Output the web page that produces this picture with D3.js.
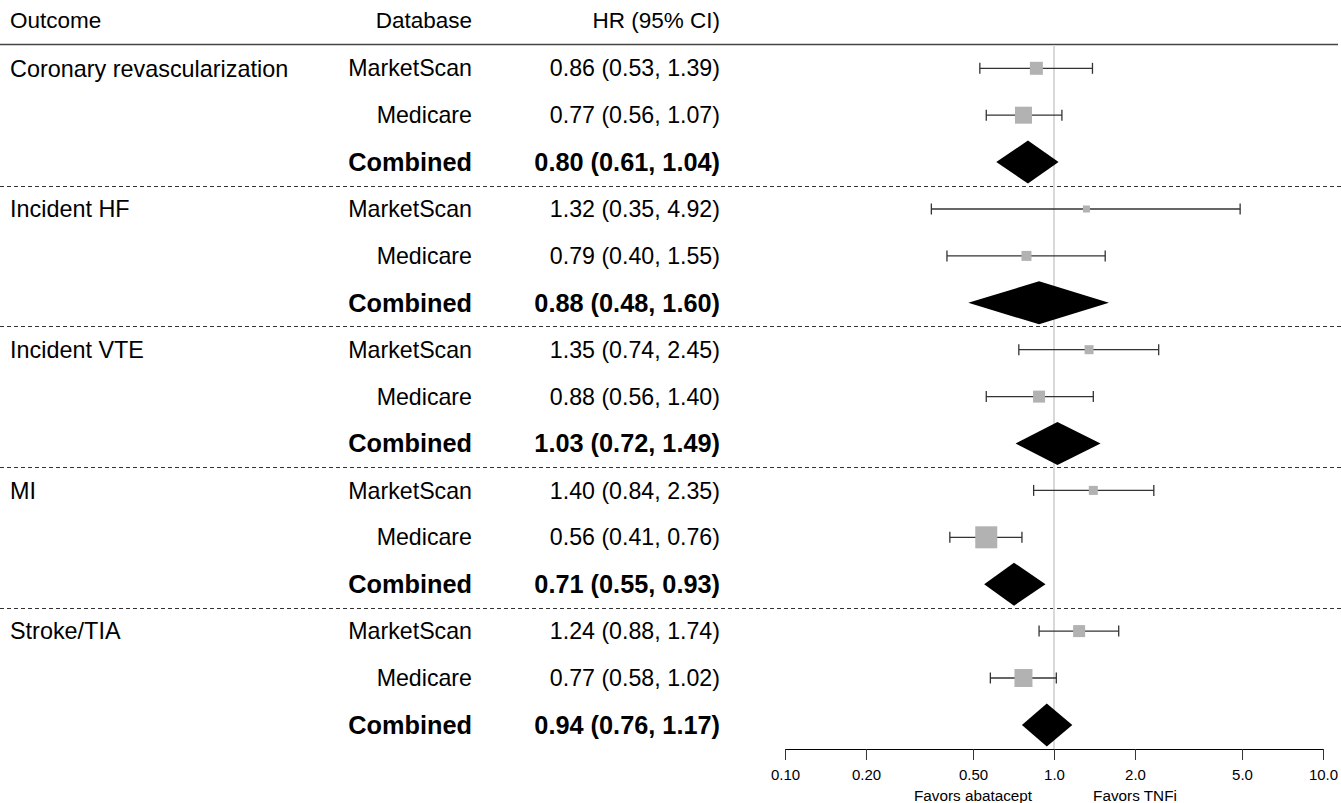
<!DOCTYPE html>
<html>
<head>
<meta charset="utf-8">
<script src="https://cdn.jsdelivr.net/npm/d3@7"></script>
<style>
  body { margin: 0; background: #fff; }
  text { font-family: "Liberation Sans", Arial, sans-serif; fill: #000; }
</style>
</head>
<body>
<svg id="viewer"></svg>
<script>
// data
var outcomes = ['Coronary revascularization', 'Incident HF', 'Incident VTE', 'MI', 'Stroke/TIA'];
var databases = ['MarketScan', 'Medicare', 'Combined'];
var hr    = [[0.86, 0.77, 0.80], [1.32, 0.79, 0.88], [1.35, 0.88, 1.03], [1.40, 0.56, 0.71], [1.24, 0.77, 0.94]];
var lower = [[0.53, 0.56, 0.61], [0.35, 0.40, 0.48], [0.74, 0.56, 0.72], [0.84, 0.41, 0.55], [0.88, 0.58, 0.76]];
var upper = [[1.39, 1.07, 1.04], [4.92, 1.55, 1.60], [2.45, 1.40, 1.49], [2.35, 0.76, 0.93], [1.74, 1.02, 1.17]];
// relative study weights (box area), MarketScan / Medicare
var weights = [[1.69, 2.89], [0.49, 1.00], [0.81, 1.44], [0.81, 4.84], [1.44, 3.24]];
var tickValues = [0.1, 0.2, 0.5, 1, 2, 5, 10];
var tickLabels = ['0.10', '0.20', '0.50', '1.0', '2.0', '5.0', '10.0'];
var favorLabels = [{ v: 0.5, text: 'Favors abatacept' }, { v: 2, text: 'Favors TNFi' }];

// flatten into rows
var rows = [];
outcomes.forEach(function(name, g) {
   databases.forEach(function(db, k) {
      rows.push({
         outcome: k == 0 ? name : '',
         db: db,
         hr: hr[g][k], lo: lower[g][k], hi: upper[g][k],
         w: k < 2 ? weights[g][k] : null,
         combined: k == 2,
         group: g
      });
   });
});

var W = 1341, H = 803;
var svg = d3.select('#viewer').attr('width', W).attr('height', H);

var x = d3.scaleLog().domain([0.1, 10]).range([785, 1323]);
var y = d3.scalePoint().domain(d3.range(rows.length)).range([68.3, 724.9]);
var step = y.step();
var box = d3.scaleSqrt().domain([0, 4.84]).range([0, 22]);
var fmt = d3.format('.2f');
var axisY = 749;

// header
var header = svg.append('g').style('font-size', '22.5px');
header.append('text').attr('x', 10).attr('y', 20).attr('dy', '0.35em').text('Outcome');
header.append('text').attr('x', 472).attr('y', 20).attr('dy', '0.35em').attr('text-anchor', 'end').text('Database');
header.append('text').attr('x', 720).attr('y', 20).attr('dy', '0.35em').attr('text-anchor', 'end').text('HR (95% CI)');
svg.append('line')
   .attr('x1', 0).attr('x2', 1338).attr('y1', 44.5).attr('y2', 44.5)
   .style('stroke', '#444').style('stroke-width', 1.3);

// group separators
svg.selectAll('.sep')
   .data(d3.range(1, outcomes.length))
   .enter().append('line')
      .attr('class', 'sep')
      .attr('x1', 0).attr('x2', W)
      .attr('y1', function(g) { return Math.round(y(g * 3) - step / 2) + 0.5; })
      .attr('y2', function(g) { return Math.round(y(g * 3) - step / 2) + 0.5; })
      .style('stroke', '#333')
      .style('stroke-dasharray', '4,3');

// reference line at HR = 1
svg.append('line')
   .attr('x1', x(1)).attr('x2', x(1)).attr('y1', 45).attr('y2', axisY)
   .style('stroke', '#d9d9d9').style('stroke-width', 2);

// text columns
var rowText = svg.selectAll('.row')
   .data(rows)
   .enter().append('g')
      .attr('class', 'row')
      .attr('transform', function(d, i) { return 'translate(0,' + y(i) + ')'; })
      .style('font-size', function(d) { return d.combined ? '25.3px' : '23.2px'; });
rowText.append('text')
   .attr('x', 10).attr('dy', '0.35em')
   .style('font-size', '23.4px')
   .text(function(d) { return d.outcome; });
rowText.append('text')
   .attr('x', 472).attr('dy', '0.35em').attr('text-anchor', 'end')
   .style('font-weight', function(d) { return d.combined ? 'bold' : 'normal'; })
   .text(function(d) { return d.db; });
rowText.append('text')
   .attr('x', 720).attr('dy', '0.35em').attr('text-anchor', 'end')
   .style('font-weight', function(d) { return d.combined ? 'bold' : 'normal'; })
   .text(function(d) { return fmt(d.hr) + ' (' + fmt(d.lo) + ', ' + fmt(d.hi) + ')'; });

// study estimates: whiskers + boxes
var studies = rows.map(function(d, i) { d.i = i; return d; }).filter(function(d) { return !d.combined; });
var est = svg.selectAll('.est')
   .data(studies)
   .enter().append('g')
      .attr('class', 'est')
      .attr('transform', function(d) { return 'translate(0,' + y(d.i) + ')'; });
est.append('line')
   .attr('x1', function(d) { return x(d.lo); })
   .attr('x2', function(d) { return x(d.hi); })
   .style('stroke', '#333').style('stroke-width', 1.3);
est.selectAll('.cap')
   .data(function(d) { return [d.lo, d.hi]; })
   .enter().append('line')
      .attr('class', 'cap')
      .attr('x1', function(v) { return x(v); })
      .attr('x2', function(v) { return x(v); })
      .attr('y1', -5.5).attr('y2', 5.5)
      .style('stroke', '#333').style('stroke-width', 1.3);
est.append('rect')
   .attr('x', function(d) { return x(d.hr) - box(d.w) / 2; })
   .attr('y', function(d) { return -box(d.w) / 2; })
   .attr('width', function(d) { return box(d.w); })
   .attr('height', function(d) { return box(d.w); })
   .style('fill', '#b2b2b2');

// pooled estimates: diamonds
var pooled = rows.filter(function(d) { return d.combined; });
svg.selectAll('.diamond')
   .data(pooled)
   .enter().append('path')
      .attr('class', 'diamond')
      .attr('d', function(d) {
         var cy = y(d.i), h = 21.5;
         return 'M' + x(d.lo) + ',' + cy + 'L' + x(d.hr) + ',' + (cy - h) +
                'L' + x(d.hi) + ',' + cy + 'L' + x(d.hr) + ',' + (cy + h) + 'Z';
      })
      .style('fill', '#000');

// axis
var axis = d3.axisBottom(x)
   .tickValues(tickValues)
   .tickFormat(function(v, i) { return tickLabels[i]; })
   .tickSize(11)
   .tickSizeOuter(0);
var axisG = svg.append('g')
   .attr('transform', 'translate(0,' + axisY + ')')
   .call(axis);
axisG.select('.domain').style('stroke', '#000');
axisG.selectAll('.tick line').style('stroke', '#333');
axisG.selectAll('.tick text')
   .attr('y', 20)
   .style('font-family', '"Liberation Sans", Arial, sans-serif')
   .style('font-size', '15px')
   .style('fill', '#000');

svg.selectAll('.favor')
   .data(favorLabels)
   .enter().append('text')
      .attr('class', 'favor')
      .attr('x', function(d) { return x(d.v); })
      .attr('y', 796)
      .attr('dy', '0.35em')
      .attr('text-anchor', 'middle')
      .style('font-size', '15.3px')
      .text(function(d) { return d.text; });
</script>
</body>
</html>
